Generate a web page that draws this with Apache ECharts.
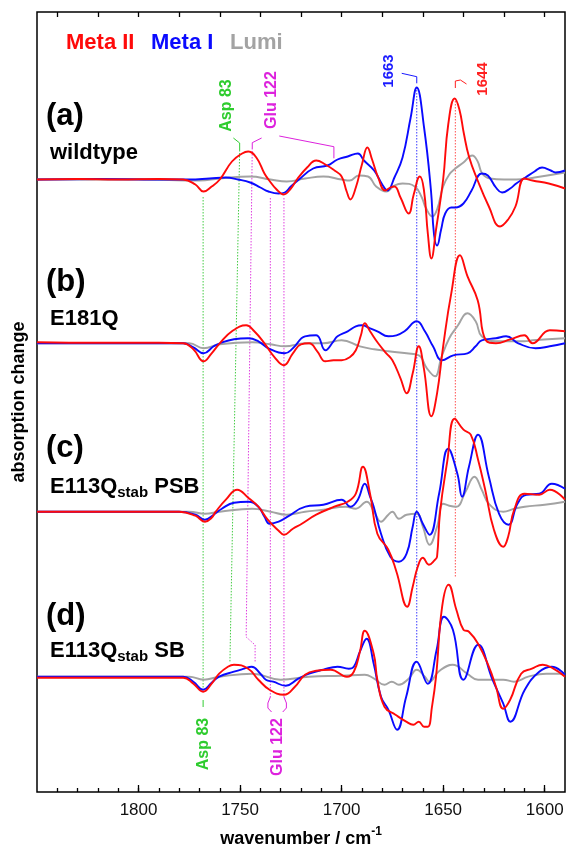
<!DOCTYPE html>
<html><head><meta charset="utf-8">
<script src="https://cdn.jsdelivr.net/npm/echarts@6/dist/echarts.min.js"></script>
<style>html,body{margin:0;padding:0;background:#fff}#c{width:566px;height:847px}</style>
</head><body><div id="c"></div>
<script>
const FONT = "'Liberation Sans', Arial, Helvetica, sans-serif";

// ---- axis ticks ----
const xMajorTicks = [1600, 1650, 1700, 1750, 1800];
const xMinorTicks = [1600,1610,1620,1630,1640,1650,1660,1670,1680,1690,1700,1710,1720,1730,1740,1750,1760,1770,1780,1790,1800,1810,1820,1830,1840];
const xTopTicks = [1600,1620,1640,1660,1680,1700,1720,1740,1760,1780,1800,1820,1840];

// ---- series names ----
const seriesNames = ['Lumi', 'Meta I', 'Meta II'];
const panelLabels = ['(a)', '(b)', '(c)', '(d)'];

// ---- spectra: [wavenumber, absorption change (a.u.)] ----
// panel (a) wildtype
const lumi_a = [[1850,0],[1800,0],[1770,-1],[1760,1],[1745,3],[1735,0],[1727,-2],[1718,1],[1709,3],[1700,0],[1696,-1],[1691.5,4],[1687,3],[1683,-7],[1678,-12],[1674,-6],[1670,-4],[1664,-7],[1660.5,-18],[1658.6,-28],[1655.3,-37],[1653,-30],[1650,-7],[1647,5],[1644,11],[1640,17],[1635.7,24],[1633,18],[1630.8,6],[1627,1],[1620,0],[1614,0],[1605,2],[1590,7]];
const metaI_a = [[1850,0],[1820,0.5],[1790,0],[1775,0],[1765,1],[1757,2],[1751,0],[1745,-3],[1740,-8],[1736,-12],[1731,-14],[1728,-13],[1725,-7],[1721,0],[1714,11],[1707,14],[1702,20],[1697,23],[1692,26],[1689,19],[1684,9],[1680,-5],[1677.5,-11],[1674,2],[1670,22],[1666,62],[1663,92],[1659.4,52],[1656,-11],[1654.5,-55],[1653,-66],[1651,-50],[1649,-34],[1646,-28],[1644,-28],[1640,-24],[1636,-11],[1631,6],[1628,4],[1624,-8],[1621,-13],[1617,-9],[1614,-4],[1609.5,2],[1605,8],[1601.3,12],[1597,9],[1594.7,7],[1590,9]];
const metaII_a = [[1850,0],[1830,0.5],[1810,0],[1790,0.5],[1778,0],[1772,-5],[1768,-12],[1764,-7],[1760,0],[1754,18],[1749,26],[1746,28],[1742,22],[1738,6],[1736,0],[1732,-10],[1728.5,-15],[1725,-9],[1722,0],[1717,12],[1712.5,19],[1708,15],[1703.5,9],[1700,3],[1697.5,-12],[1695.7,-20],[1693,-8],[1690,15],[1687.3,32],[1685,20],[1682,2],[1678.5,-11],[1676,-8],[1674,-7],[1671,-18],[1667,-34],[1664.5,-15],[1661.5,3],[1659.5,-10],[1657.5,-55],[1655.8,-79],[1653.5,-50],[1650,0],[1647.5,55],[1644.3,81],[1642,70],[1639.8,46],[1637.3,23],[1633.2,0],[1627.5,-27],[1622,-47],[1618,-40],[1614.4,-27],[1610,1],[1606,-1],[1598,-4],[1590,-9]];

// panel (b) E181Q
const lumi_b = [[1850,0],[1790,0],[1775,0],[1768,-5],[1760,-1],[1744,1],[1735,-1],[1728,-3],[1718,0],[1709,0],[1700,3],[1691,-3],[1684,-6],[1677,-8],[1668,-10],[1662,-12],[1658,-25],[1654,-33],[1651,-15],[1647,5],[1643,17],[1638,30],[1634,22],[1631,7],[1624,2],[1610,2],[1606,3],[1590,5]];
const metaI_b = [[1850,0],[1800,0],[1778,0],[1773,-4],[1768,-10],[1763,-3],[1760,0],[1753,4],[1746,5],[1741,2],[1736,-5],[1728,-10],[1724,-5],[1718,7],[1712.5,8],[1708,-7],[1704,2],[1702,7],[1697,12],[1693,17],[1690,18],[1686,15],[1682.4,12],[1677,7],[1673,8],[1669,12],[1663,22],[1659,12],[1655,-3],[1650.5,-17],[1645,-12],[1638,-10],[1634,-3],[1631,3],[1624,5],[1619,7],[1613,0],[1604.5,-5],[1597.5,-3],[1590,0]];
const metaII_b = [[1850,1],[1820,0.5],[1790,0.5],[1778,0],[1773,-6],[1768,-18],[1764,-10],[1760,0],[1754,12],[1747,18],[1743,12],[1738,0],[1733,-14],[1728.5,-22],[1724,-10],[1720,-1],[1716,0],[1712,-8],[1708,-18],[1704,-17],[1700,-17],[1696,-14],[1693,-7],[1690.5,8],[1688.6,20],[1686,12],[1682,0],[1678,-10],[1675,-17],[1671,-35],[1668,-50],[1665,-30],[1662,-3],[1659.5,-25],[1655.8,-73],[1653,-50],[1650,-3],[1646,50],[1641.7,88],[1638,67],[1633,43],[1629,3],[1624,0],[1617,4],[1610,8],[1606,0],[1597.5,13],[1590,12]];

// panel (c) E113Q stab PSB
const lumi_c = [[1850,0],[1800,0],[1775,0],[1767.3,-2],[1760,0],[1744,3],[1735,0],[1727,-3],[1718,0],[1709,2],[1698,5],[1693,3],[1687.7,10],[1684,0],[1680.6,-10],[1677,-3],[1675,0],[1671.8,-7],[1668,-3],[1663,-2],[1660,-15],[1656.7,-33],[1653,-15],[1650,8],[1647,6],[1643.5,5],[1639,20],[1634.6,35],[1631,22],[1627.5,8],[1620.4,0],[1615,3],[1609.8,5],[1600,7],[1590,10]];
const metaI_c = [[1850,0],[1800,0],[1780,0],[1772,-3],[1767.3,-8],[1763,-3],[1759,3],[1753,9],[1746,10],[1741,5],[1738,-5],[1735.5,-12],[1731,-10],[1726.6,-5],[1717.8,5],[1709,7],[1700,12],[1695.7,5],[1692,12],[1688.6,28],[1686,15],[1684.2,5],[1680.6,-22],[1676,-45],[1671.8,-50],[1668,-42],[1665,-15],[1663,0],[1660,-12],[1656.7,-23],[1652,18],[1647.5,63],[1643,38],[1640.7,15],[1637.3,45],[1632.8,77],[1627.5,35],[1622.5,-2],[1617.8,-13],[1613.4,8],[1609,17],[1602.7,18],[1596.5,28],[1590,23]];
const metaII_c = [[1850,0],[1800,0],[1780,0],[1772,-4],[1767.3,-10],[1764,-6],[1762,0],[1757,12],[1751.4,22],[1746,14],[1741,5],[1736.4,-8],[1731,-19],[1728.4,-23],[1724,-17],[1719.6,-12],[1712.5,-3],[1703.6,5],[1697,10],[1693,18],[1689.5,45],[1686,18],[1682.4,-22],[1677,-38],[1673,-60],[1667.7,-95],[1665,-75],[1662.5,-55],[1660,-46],[1657,-53],[1654,-48],[1653,-45],[1651.5,0],[1648,50],[1644.3,93],[1640,82],[1636.4,77],[1632.8,52],[1629.3,22],[1625,-18],[1620.4,-35],[1618,-25],[1615,2],[1610,18],[1602.7,17],[1597.5,22],[1590,12]];

// panel (d) E113Q stab SB
const lumi_d = [[1850,0],[1790,0],[1775,0],[1768,-3],[1760,0],[1744,3],[1730,-3],[1716,0],[1700,1],[1688.6,2],[1684,-2],[1678.9,-8],[1675.3,-5],[1671.8,-8],[1667,-2],[1663,7],[1659,0],[1656.7,-5],[1652.3,5],[1645.3,12],[1638.1,3],[1632.8,-3],[1620.4,-3],[1615.1,-5],[1608.1,0],[1599.2,3],[1590,3]];
const metaI_d = [[1850,0],[1820,0],[1790,0],[1778,0],[1773,-5],[1768.2,-13],[1764,-6],[1760.3,0],[1753,5],[1748,8],[1744.3,10],[1740,3],[1737.3,-3],[1733.7,-5],[1727.5,-9],[1721.3,-2],[1716,3],[1709,7],[1702,10],[1696.5,8],[1694,10],[1691,25],[1687.7,38],[1684.2,13],[1680.6,-20],[1677,-33],[1672.7,-53],[1668.2,-20],[1663,15],[1657.6,-7],[1653.2,27],[1649.6,60],[1645.2,47],[1640,-3],[1632.8,32],[1625.7,-3],[1620.4,-27],[1616.9,-45],[1609.8,-13],[1602.7,5],[1596.5,10],[1590,2]];
const metaII_d = [[1850,-1],[1820,-1],[1790,-1],[1778,-1],[1773,-7],[1768.2,-15],[1764,-7],[1760.3,3],[1756,10],[1753,12],[1746,8],[1741,-3],[1735.5,-13],[1728.4,-18],[1723,-10],[1718,2],[1712.5,6],[1705.4,7],[1697.4,0],[1694,5],[1691,25],[1688.6,46],[1684.2,23],[1682.4,-3],[1678.9,-30],[1673.5,-38],[1668.2,-45],[1664.7,-48],[1662,-45],[1659.4,-50],[1657.5,-50],[1655.5,-30],[1653.5,0],[1650.5,70],[1647.3,92],[1643.5,67],[1640,47],[1637.3,45],[1632.8,33],[1627.5,10],[1624,-10],[1620.4,-32],[1617,-23],[1611.6,3],[1606.3,8],[1601,12],[1595.7,8],[1590,0]];

// ---- annotation guides: [wavenumber, y on the stacked axis] ----
const guide1663 = [[1663,705],[1663,134]];
const guide1644 = [[1644,694],[1644,214]];
const guideAsp1 = [[1768.2,595],[1768.2,104]];
const guideAsp2 = [[1750.2,642],[1755,130]];
const guideGlu1 = [[1744,644],[1747,155],[1742.6,147],[1742.6,130]];
const guideGlu2 = [[1735.1,594],[1735.1,95]];
const guideGlu3 = [[1728.4,594],[1728.4,95]];
const brkAspTop = [[1753.3,654],[1750.2,649],[1750.2,642]];
const brkGluTopL = [[1739.4,654],[1744,649.3],[1744,643.7]];
const brkGluTopR = [[1730.7,656],[1703.8,645.3],[1703.8,633.7]];
const brk1663 = [[1670.4,718.7],[1663,715.3],[1663,708.7]];
const brk1644 = [[1644,704],[1644,711],[1641.5,712],[1638.5,708]];
const brkAspBot = [[1768.2,92],[1768.2,85]];
const brkGluBotL = [[1735.1,95],[1736.3,89],[1736.3,84],[1734.5,80]];
const brkGluBotR = [[1728.4,95],[1727.2,89],[1727.2,84],[1729,80]];

// ---- layout (not data) ----
const baselines = [612.5, 448.7, 280.3, 115.3];
const colors = {'Lumi':'#a3a3a3','Meta I':'#0a0aff','Meta II':'#ff0a0a'};
const panelData = [
  [lumi_a, metaI_a, metaII_a],
  [lumi_b, metaI_b, metaII_b],
  [lumi_c, metaI_c, metaII_c],
  [lumi_d, metaI_d, metaII_d]
];

const series = [];
panelData.forEach((triple, p) => {
  triple.forEach((arr, k) => {
    series.push({
      type:'line', name: seriesNames[k], xAxisIndex:0, yAxisIndex:0,
      data: arr.map(d => [d[0], d[1] + baselines[p]]),
      smooth:0.45, showSymbol:false, silent:true,
      lineStyle:{color:colors[seriesNames[k]], width:1.9},
      z: 3 + k
    });
  });
});
function guide(data, color, dotted) {
  series.push({
    type:'line', xAxisIndex:0, yAxisIndex:0, data, showSymbol:false, silent:true,
    lineStyle:{color, width:1, type: dotted ? [1.5,1.5] : 'solid'}, z:2
  });
}
guide(guide1663, '#3a3aff', true);
guide(guide1644, '#ff5050', true);
guide(guideAsp1, '#44cc44', true);
guide(guideAsp2, '#44cc44', true);
guide(guideGlu1, '#e040e0', true);
guide(guideGlu2, '#e040e0', true);
guide(guideGlu3, '#e040e0', true);
guide(brkAspTop, '#33cc33', false);
guide(brkGluTopL, '#dd22dd', false);
guide(brkGluTopR, '#dd22dd', false);
guide(brk1663, '#1a1aff', false);
guide(brk1644, '#ff2020', false);
guide(brkAspBot, '#33cc33', false);
guide(brkGluBotL, '#dd22dd', false);
guide(brkGluBotR, '#dd22dd', false);

const gridRect = {left:37, right:1, top:12, bottom:55, outerBoundsMode:'none', containLabel:false};
const tickStyle = {color:'#000', width:1.3};
const fmt = v => String(v);

const textEl = (text, x, y, size, color) => ({
  type:'text', x, y, silent:true,
  style:{text, fill:color, font:`bold ${size}px ${FONT}`, align:'left', verticalAlign:'middle'}
});
const rotText = (text, x, y, size, color) => ({
  type:'text', x, y, rotation: Math.PI/2, silent:true,
  style:{text, fill:color, font:`bold ${size}px ${FONT}`, align:'center', verticalAlign:'middle'}
});
const richLabel = (main, sub, tail, x, y) => ({
  type:'text', x, y, silent:true,
  style:{
    text:`{m|${main}}{s|${sub}}{m|${tail}}`, align:'left', verticalAlign:'middle',
    rich:{
      m:{fontSize:22, fontWeight:'bold', fontFamily:FONT, fill:'#000', color:'#000', lineHeight:25, verticalAlign:'top'},
      s:{fontSize:15, fontWeight:'bold', fontFamily:FONT, fill:'#000', color:'#000', lineHeight:15, verticalAlign:'bottom', padding:[12,0,0,0]}
    }
  }
});

const chart = echarts.init(document.getElementById('c'), null, {renderer:'canvas'});
chart.setOption({
  animation:false,
  backgroundColor:'#fff',
  grid:[
    Object.assign({show:true, borderColor:'#000', borderWidth:1.5, backgroundColor:'transparent'}, gridRect),
    Object.assign({show:false}, gridRect)
  ],
  xAxis:[
    {type:'value', gridIndex:0, min:1590, max:1850, inverse:true, position:'bottom',
     axisLine:{show:false}, splitLine:{show:false},
     axisTick:{show:true, inside:true, length:7, customValues:xMajorTicks, lineStyle:tickStyle},
     axisLabel:{customValues:xMajorTicks, formatter:fmt, fontSize:17, color:'#111', margin:10, fontFamily:FONT},
     name:'{a|wavenumber / cm}{b|-1}', nameLocation:'middle', nameGap:34,
     nameTextStyle:{rich:{
       a:{fontSize:18, fontWeight:'bold', fontFamily:FONT, color:'#000', lineHeight:22, verticalAlign:'bottom'},
       b:{fontSize:12, fontWeight:'bold', fontFamily:FONT, color:'#000', lineHeight:22, verticalAlign:'top'}
     }}},
    {type:'value', gridIndex:0, min:1590, max:1850, inverse:true, position:'top',
     axisLine:{show:false}, splitLine:{show:false}, axisLabel:{show:false},
     axisTick:{show:true, inside:true, length:5, customValues:xTopTicks, lineStyle:tickStyle}},
    {type:'value', gridIndex:1, min:1590, max:1850, inverse:true, position:'bottom',
     axisLine:{show:false}, splitLine:{show:false}, axisLabel:{show:false},
     axisTick:{show:true, inside:true, length:4, customValues:xMinorTicks, lineStyle:tickStyle}}
  ],
  yAxis:[
    {type:'value', gridIndex:0, min:0, max:780, show:false},
    {type:'value', gridIndex:1, min:0, max:780, show:false}
  ],
  series,
  graphic:[
    textEl('Meta II', 66, 43, 22, '#ff0a0a'),
    textEl('Meta I', 151, 43, 22, '#0a0aff'),
    textEl('Lumi', 230, 43, 22, '#a3a3a3'),
    textEl(panelLabels[0], 46, 116, 31, '#000'),
    textEl('wildtype', 50, 153, 22, '#000'),
    textEl(panelLabels[1], 46, 282, 31, '#000'),
    textEl('E181Q', 50, 319, 22, '#000'),
    textEl(panelLabels[2], 46, 448, 31, '#000'),
    richLabel('E113Q', 'stab', ' PSB', 50, 488),
    textEl(panelLabels[3], 46, 616, 31, '#000'),
    richLabel('E113Q', 'stab', ' SB', 50, 652),
    rotText('absorption change', 19, 402, 18, '#000'),
    rotText('Asp 83', 226.5, 105.5, 16, '#2ecc2e'),
    rotText('Glu 122', 271.5, 100, 16, '#dd22dd'),
    rotText('1663', 389, 71, 15, '#1a1aff'),
    rotText('1644', 482.5, 79, 15, '#ff2020'),
    rotText('Asp 83', 204, 744, 16, '#2ecc2e'),
    rotText('Glu 122', 277.5, 747, 16, '#dd22dd')
  ]
});
</script></body></html>
